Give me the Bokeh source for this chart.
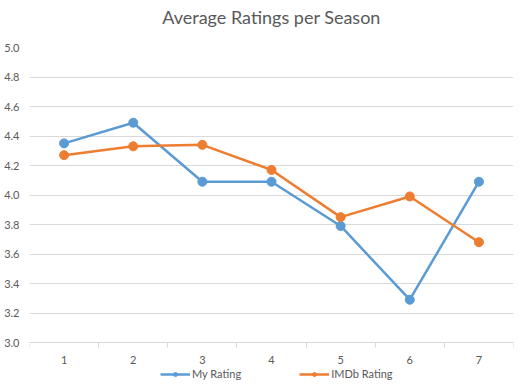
from bokeh.plotting import figure
from bokeh.models import FixedTicker, Legend, LegendItem, Range1d, CustomJSTickFormatter, Title
from bokeh.embed import file_html
from bokeh.resources import INLINE

seasons = [1, 2, 3, 4, 5, 6, 7]
my_rating = [4.35, 4.49, 4.09, 4.09, 3.79, 3.29, 4.09]
imdb_rating = [4.27, 4.33, 4.34, 4.17, 3.85, 3.99, 3.68]
y_ticks = [3.0, 3.2, 3.4, 3.6, 3.8, 4.0, 4.2, 4.4, 4.6, 4.8, 5.0]

BLUE = "#5B9BD5"
ORANGE = "#ED7D31"
GRID = "#D9D9D9"
TEXT = "#595959"
FONT = "Lato"

Y_MIN, Y_MAX = 3.0, 5.0
PLOT_H = 295                 # pixel height of the 3.0-5.0 value span
EXTRA_BELOW = 46             # room under the value axis for labels + legend
px_per_unit = PLOT_H / (Y_MAX - Y_MIN)
y_start = Y_MIN - EXTRA_BELOW / px_per_unit

p = figure(frame_width=484, frame_height=PLOT_H + EXTRA_BELOW, output_backend="svg",
           toolbar_location=None, title=None,
           x_range=Range1d(0.5, 7.5), y_range=Range1d(y_start, Y_MAX),
           min_border_left=29, min_border_right=2, min_border_top=47,
           min_border_bottom=0)
p.outline_line_color = None
p.background_fill_color = "white"
p.border_fill_color = "white"

gap = Title(text=" ", text_font_size="1px", standoff=17)
p.add_layout(gap, "above")
main_title = Title(text="Average Ratings per Season", align="center",
                   text_font=FONT, text_font_size="18px", text_font_style="normal",
                   text_color=TEXT, standoff=0)
p.add_layout(main_title, "above")

p.xaxis.fixed_location = Y_MIN
p.xaxis.ticker = FixedTicker(ticks=seasons, minor_ticks=[s - 0.5 for s in seasons] + [7.5])
p.xaxis.major_tick_line_color = None
p.xaxis.major_tick_out = 0
p.xaxis.major_tick_in = 0
p.xaxis.minor_tick_line_color = GRID
p.xaxis.minor_tick_out = 5
p.xaxis.minor_tick_in = 0
p.xaxis.axis_line_color = GRID
p.xaxis.major_label_text_font = FONT
p.xaxis.major_label_text_font_size = "11px"
p.xaxis.major_label_text_color = TEXT
p.xaxis.major_label_standoff = 8

p.yaxis.ticker = FixedTicker(ticks=y_ticks)
p.yaxis.formatter = CustomJSTickFormatter(code="return tick.toFixed(1);")
p.yaxis.axis_line_color = None
p.yaxis.major_tick_line_color = None
p.yaxis.major_tick_out = 0
p.yaxis.major_tick_in = 0
p.yaxis.minor_tick_line_color = None
p.yaxis.major_label_text_font = FONT
p.yaxis.major_label_text_font_size = "11px"
p.yaxis.major_label_text_color = TEXT
p.yaxis.major_label_standoff = 10

p.xgrid.grid_line_color = None
p.ygrid.grid_line_color = GRID
p.ygrid.ticker = FixedTicker(ticks=y_ticks)

l1 = p.line(seasons, my_rating, line_color=BLUE, line_width=2.5)
c1 = p.scatter(seasons, my_rating, size=9, fill_color=BLUE, line_color=BLUE)
l2 = p.line(seasons, imdb_rating, line_color=ORANGE, line_width=2.5)
c2 = p.scatter(seasons, imdb_rating, size=9, fill_color=ORANGE, line_color=ORANGE)

legend = Legend(items=[LegendItem(label="My Rating", renderers=[l1, c1]),
                       LegendItem(label="IMDb Rating", renderers=[l2, c2])],
                orientation="horizontal", location=(131, 8),
                border_line_color=None, background_fill_alpha=0,
                label_text_font=FONT, label_text_font_size="11px",
                label_text_color=TEXT, glyph_width=30, glyph_height=10,
                label_height=10,
                spacing=58, padding=0, margin=0, label_standoff=2)
p.add_layout(legend, "center")

open("out.html", "w").write(file_html(p, INLINE))
